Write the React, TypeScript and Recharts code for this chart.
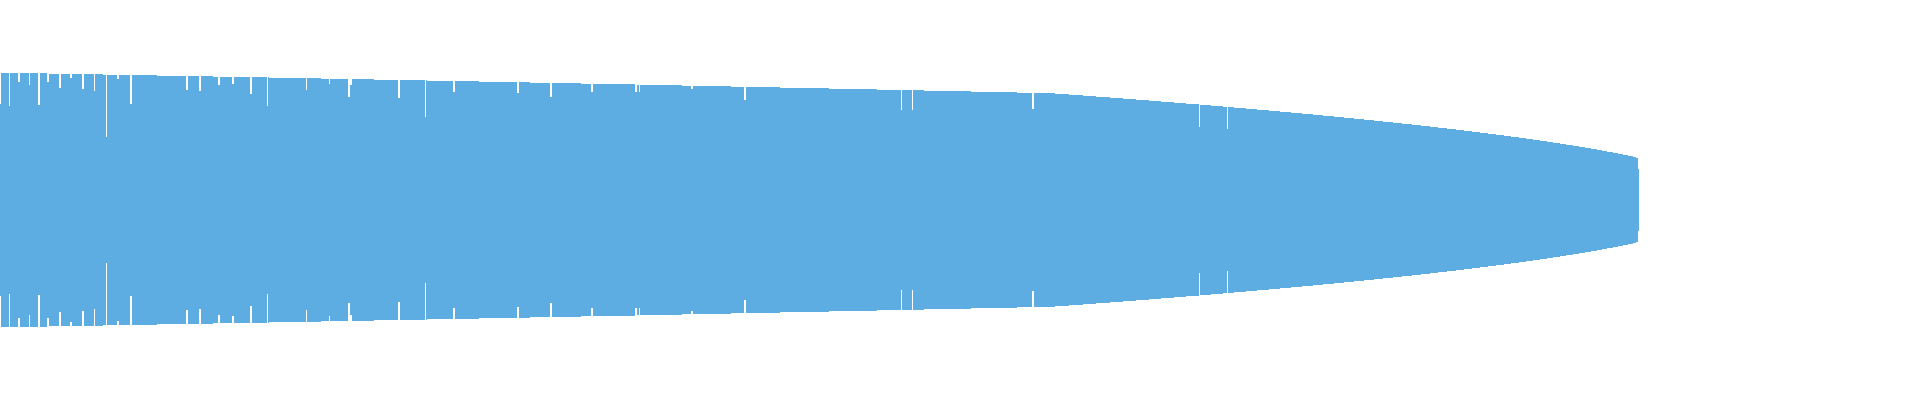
import { AreaChart, Area, XAxis, YAxis } from 'recharts';

// envelope of the shape: where each level starts, and its half-spread
const positions = [
  0, 49, 103, 157, 213, 269, 321, 374, 427, 479, 530, 581, 637, 682, 731, 780, 829, 877, 924, 971,
  1017, 1055, 1069, 1083, 1096, 1110, 1123, 1136, 1149, 1161, 1174, 1186, 1199, 1211, 1223, 1234,
  1246, 1257, 1269, 1280, 1291, 1302, 1313, 1323, 1334, 1344, 1354, 1364, 1374, 1383, 1393, 1402,
  1412, 1421, 1430, 1438, 1447, 1456, 1464, 1472, 1480, 1488, 1496, 1504, 1511, 1519, 1526, 1533,
  1540, 1547, 1553, 1560, 1566, 1573, 1579, 1585, 1591, 1597, 1602, 1607, 1613, 1618, 1623, 1628,
  1633, 1636, 1638, 1639,
];
const spread = [
  127, 126, 125, 124, 123, 122, 121, 120, 119, 118, 117, 116, 115, 114, 113, 112, 111, 110, 109, 108,
  107, 106, 105, 104, 103, 102, 101, 100, 99, 98, 97, 96, 95, 94, 93, 92,
  91, 90, 89, 88, 87, 86, 85, 84, 83, 82, 81, 80, 79, 78, 77, 76,
  75, 74, 73, 72, 71, 70, 69, 68, 67, 66, 65, 64, 63, 62, 61, 60,
  59, 58, 57, 56, 55, 54, 53, 52, 51, 50, 49, 48, 47, 46, 45, 44,
  43, 42, 31, 31,
];

// thin dips in the shape
const dipAt = [
  0, 9, 18, 29, 38, 47, 59, 70, 82, 94, 106, 117, 130, 186, 199, 218, 232, 250, 267, 306, 329, 348,
  350, 398, 425, 453, 517, 550, 591, 635, 639, 691, 744, 901, 912, 1032, 1199, 1227,
];
const dipSpread = [
  96, 94, 118, 115, 95, 118, 112, 122, 111, 109, 63, 121, 96, 110, 109, 115, 116, 106, 94, 110, 116, 103,
  115, 102, 83, 108, 107, 103, 108, 108, 108, 111, 100, 90, 90, 91, 73, 71,
];
const dipWidth = [
  1, 1, 2, 1, 2, 2, 2, 2, 2, 1, 1, 2, 2, 2, 2, 2, 2, 2, 1, 1, 1, 2,
  2, 2, 1, 2, 2, 2, 2, 2, 1, 2, 2, 1, 1, 2, 1, 1,
];

const envelopeAt = (x: number) => {
  let v = spread[0];
  for (let i = 0; i < positions.length; i++) {
    if (positions[i] <= x) v = spread[i];
  }
  return v;
};

const points = new Map<number, number>();
positions.forEach((x, i) => points.set(x, spread[i]));
dipAt.forEach((x, i) => points.set(x + dipWidth[i], envelopeAt(x + dipWidth[i])));
dipAt.forEach((x, i) => points.set(x, dipSpread[i]));

const data = Array.from(points.entries())
  .sort((a, b) => a[0] - b[0])
  .map(([x, v]) => ({ x, range: [-v, v] }));

export default function App() {
  return (
    <div style={{ position: 'absolute', left: 0, top: 0 }}>
      <style>{`.recharts-area-area { shape-rendering: crispEdges; }`}</style>
      <AreaChart width={1920} height={400} data={data} margin={{ top: 0, right: 0, bottom: 0, left: 0 }}>
        <XAxis type="number" dataKey="x" domain={[0, 1920]} hide />
        <YAxis type="number" domain={[-200, 200]} hide />
        <Area
          type="stepAfter"
          dataKey="range"
          stroke="none"
          fill="#5DADE2"
          fillOpacity={1}
          dot={false}
          activeDot={false}
          isAnimationActive={false}
        />
      </AreaChart>
    </div>
  );
}
